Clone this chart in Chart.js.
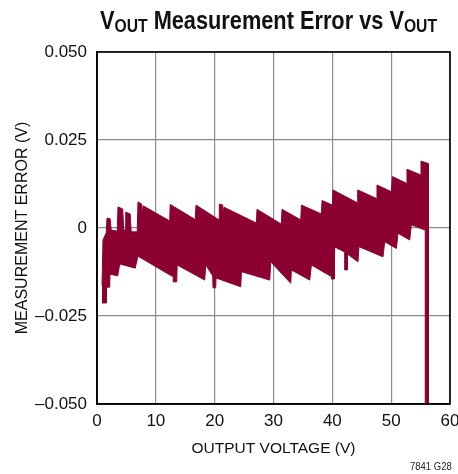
<!DOCTYPE html>
<html>
<head>
<meta charset="utf-8">
<script src="https://cdn.jsdelivr.net/npm/chart.js@4/dist/chart.umd.min.js"></script>
<style>
  html, body { margin: 0; padding: 0; background: #fff; }
  #wrap { position: relative; width: 458px; height: 474px; }
  canvas { position: absolute; left: 0; top: 0; }
  .txt { position: absolute; white-space: nowrap; display: inline-block; transform-origin: 0 0;
         font-family: 'Liberation Sans', Arial, sans-serif; }
  #title { left: 100px; top: 7.5px; color: #111; font-weight: bold; font-size: 25px; line-height: 25px; }
  #title sub { font-size: 18px; vertical-align: baseline; position: relative; top: 3.4px; }
  #fig { left: 410px; top: 459px; color: #222; font-size: 11.5px; line-height: 14px; }
</style>
</head>
<body>
<div id="wrap">
  <canvas id="c" width="458" height="474"></canvas>
  <div id="title" class="txt">V<sub>OUT</sub> Measurement Error vs V<sub>OUT</sub></div>
  <div id="fig" class="txt">7841 G28</div>
</div>
<script>
// Output voltage (V) and measurement error (V) along the top edge of the error band
const upperVout = [0.85, 1.02, 1.56, 1.70, 2.24, 2.41, 3.43, 3.57, 4.37, 4.54,
  4.79, 4.88, 5.64, 5.81, 6.83, 6.97, 7.60, 7.73, 7.85, 12.36,
  12.44, 16.69, 16.83, 20.74, 20.79, 21.37, 21.45, 21.59, 27.09, 27.20,
  31.34, 31.45, 34.63, 34.74, 38.14, 38.25, 40.01, 40.12, 44.20, 44.31,
  47.49, 47.59, 50.04, 50.21, 52.59, 52.69, 54.97, 55.07, 56.30, 56.32];
const upperErr = [-0.0162, -0.0034, -0.0014, 0.0028, 0.0026, -0.0006, -0.0009, 0.0060, 0.0054, -0.0006,
  -0.0006, 0.0045, 0.0040, -0.0011, -0.0011, 0.0074, 0.0068, 0.0040, 0.0063, 0.0020,
  0.0067, 0.0024, 0.0065, 0.0023, 0.0068, 0.0065, 0.0040, 0.0059, 0.0014, 0.0053,
  0.0011, 0.0053, 0.0023, 0.0065, 0.0040, 0.0078, 0.0065, 0.0108, 0.0072, 0.0108,
  0.0084, 0.0122, 0.0103, 0.0146, 0.0127, 0.0167, 0.0151, 0.0190, 0.0183, -0.0500];

// Output voltage (V) and measurement error (V) along the bottom edge of the error band
const lowerVout = [0.85, 1.56, 1.60, 2.16, 2.21, 3.52, 3.86, 6.49, 6.97, 12.65,
  12.95, 13.04, 13.55, 13.63, 18.31, 18.48, 19.67, 19.72, 20.18, 20.23,
  24.43, 24.55, 29.36, 29.53, 32.93, 33.04, 36.16, 36.44, 39.84, 39.89,
  40.32, 40.40, 42.10, 42.15, 42.53, 42.58, 44.36, 44.53, 48.61, 48.90,
  50.89, 51.16, 53.15, 53.44, 55.79, 55.84];
const lowerErr = [-0.0213, -0.0213, -0.0168, -0.0168, -0.0131, -0.0136, -0.0102, -0.0114, -0.0080, -0.0136,
  -0.0138, -0.0153, -0.0153, -0.0105, -0.0148, -0.0105, -0.0136, -0.0170, -0.0170, -0.0142,
  -0.0167, -0.0124, -0.0148, -0.0096, -0.0157, -0.0119, -0.0148, -0.0105, -0.0138, -0.0145,
  -0.0145, -0.0054, -0.0068, -0.0119, -0.0119, -0.0074, -0.0096, -0.0053, -0.0082, -0.0039,
  -0.0058, -0.0015, -0.0034, 0.0009, -0.0006, -0.0500];

const xTickLabels = ['0', '10', '20', '30', '40', '50', '60'];
const yTickLabels = ['\u20130.050', '\u20130.025', '0', '0.025', '0.050'];

const BAND = '#8b0030';
const FONT = "'Liberation Sans', Arial, sans-serif";

// Squeeze a text block horizontally to a given width (condensed lettering)
function fitWidth(id, width) {
  const el = document.getElementById(id);
  const w = el.getBoundingClientRect().width;
  el.style.transform = 'scaleX(' + (width / w) + ')';
}
fitWidth('title', 337);
fitWidth('fig', 41.7);

// Closed outline: top edge left to right, then bottom edge right to left
const outline = upperVout.map((v, i) => ({ x: v, y: upperErr[i] }))
  .concat(lowerVout.map((v, i) => ({ x: v, y: lowerErr[i] })).reverse());

// Black frame around the plot area
const frame = {
  id: 'frame',
  afterDraw(chart) {
    const { ctx, chartArea: a } = chart;
    ctx.save();
    ctx.strokeStyle = '#000';
    ctx.lineWidth = 1.6;
    ctx.strokeRect(a.left, a.top, a.right - a.left, a.bottom - a.top);
    ctx.restore();
  }
};

new Chart(document.getElementById('c'), {
  type: 'line',
  data: {
    datasets: [{
      data: outline,
      fill: 'shape',
      backgroundColor: BAND,
      borderColor: BAND,
      borderWidth: 1,
      pointRadius: 0,
      tension: 0
    }]
  },
  options: {
    responsive: false,
    animation: false,
    devicePixelRatio: 1,
    layout: { padding: { top: 52, right: 8, left: 0, bottom: 0 } },
    plugins: { legend: { display: false }, tooltip: { enabled: false } },
    scales: {
      x: {
        type: 'linear', min: 0, max: 60,
        ticks: {
          stepSize: 10, padding: 7, color: '#111', maxRotation: 0,
          font: { family: FONT, size: 17 },
          callback: (v, i) => xTickLabels[i]
        },
        grid: { color: '#8c8c8c', lineWidth: 1.2, drawTicks: false },
        border: { color: '#000', width: 1.6 },
        title: {
          display: true, text: 'OUTPUT VOLTAGE (V)', color: '#111',
          font: { family: FONT, size: 15.5 }, padding: { top: 0, bottom: 15.5 }
        },
        afterFit(s) { s.height = 70; s.paddingLeft = 0; s.paddingRight = 0; }
      },
      y: {
        type: 'linear', min: -0.05, max: 0.05,
        ticks: {
          stepSize: 0.025, padding: 10, color: '#111',
          font: { family: FONT, size: 17 },
          callback: (v, i) => yTickLabels[i]
        },
        grid: { color: '#8c8c8c', lineWidth: 1.2, drawTicks: false },
        border: { color: '#000', width: 1.6 },
        title: {
          display: true, text: 'MEASUREMENT ERROR (V)', color: '#111',
          font: { family: FONT, size: 16 }, padding: { top: 13, bottom: 0 }
        },
        afterFit(s) { s.width = 97; s.paddingTop = 0; s.paddingBottom = 0; }
      }
    }
  },
  plugins: [frame]
});
</script>
</body>
</html>
